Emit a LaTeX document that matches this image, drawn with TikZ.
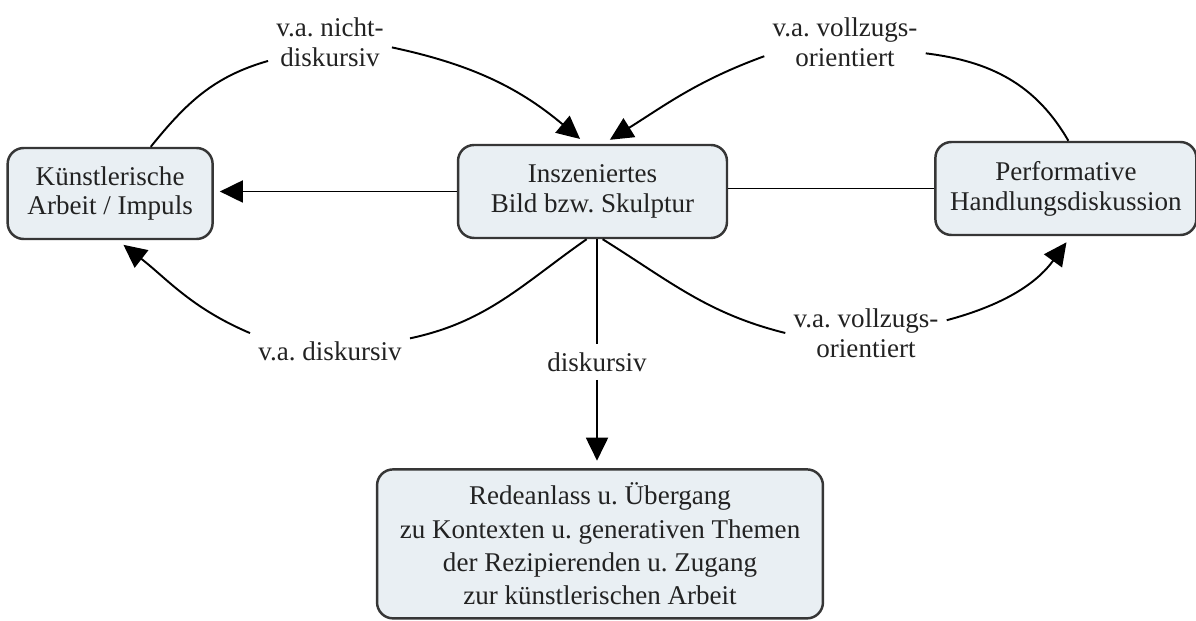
\documentclass[tikz,border=0pt]{standalone}
\usepackage{fontspec}
\setmainfont{Liberation Serif}
\usetikzlibrary{positioning,arrows.meta}
\definecolor{boxfill}{HTML}{E9EFF3}
\definecolor{boxline}{HTML}{363636}
\definecolor{textgrey}{HTML}{222222}
\frenchspacing

\begin{document}
\begin{tikzpicture}[
    x=0.02cm, y=-0.02cm,
    every node/.style={font=\fontsize{15.4}{17}\selectfont, text=textgrey},
    block/.style={draw=boxline, fill=boxfill, line width=1.4pt, rounded corners=0.32cm, align=center, minimum height=1.86cm},
    tag/.style={align=center, inner sep=0.16cm},
    link/.style={line width=1.1pt},
    arrow/.style={link, -{Triangle[length=0.46cm, width=0.44cm]}, shorten >=0.15cm}
]
\useasboundingbox (0,0) rectangle (1196,621);

\node[block, minimum width=5.38cm] (bild) at (592.5,191.5) {Inszeniertes\\Bild bzw. Skulptur};
\node[block, minimum width=4.1cm, minimum height=1.82cm, left=4.86cm of bild, yshift=-0.04cm] (kunst) {Künstlerische\\Arbeit / Impuls};
\node[block, minimum width=5.22cm, right=4.12cm of bild, yshift=0.06cm] (perf) {Performative\\Handlungsdiskussion};
\node[block, minimum width=8.92cm, minimum height=2.98cm, below=4.58cm of bild, xshift=0.15cm, font=\fontsize{15.4}{19}\selectfont] (rede) {Redeanlass u. Übergang\\zu Kontexten u. generativen Themen\\der Rezipierenden u. Zugang\\zur künstlerischen Arbeit};

\node[tag] (nichtdisk) at (330,42) {v.a. nicht-\\diskursiv};
\node[tag] (vollzugoben) at (845,42) {v.a. vollzugs-\\orientiert};
\node[tag] (disk) at (330,351) {v.a. diskursiv};
\node[tag] (vollzugunten) at (866,333) {v.a. vollzugs-\\orientiert};
\node[tag] (direkt) at (597,362) {diskursiv};

\draw[arrow, shorten >=0.12cm] (bild.west) -- (bild.west -| kunst.east);
\draw[link] (bild.east |- perf.west) -- (perf.west);
\draw[link] (bild.south -| direkt) -- (direkt);
\draw[arrow] (direkt) -- (direkt |- rede.north);

\draw[link] (kunst.49) to[out=51, in=196] (nichtdisk.197);
\draw[arrow] (nichtdisk.-5) to[out=-12, in=140] (bild.98);
\draw[link] (perf.87) to[out=120, in=-7] (vollzugoben.-8);
\draw[arrow] (vollzugoben.190) to[out=200, in=32] (bild.77);
\draw[link] (bild.-97) to[out=215, in=12] (disk.9);
\draw[arrow] (disk.north west) to[out=157, in=-38] (kunst.-81);
\draw[link] (bild.-78) to[out=-32, in=166] (vollzugunten.180);
\draw[arrow] (vollzugunten.9) to[out=15, in=-126] (perf.-84);
\end{tikzpicture}
\end{document}
